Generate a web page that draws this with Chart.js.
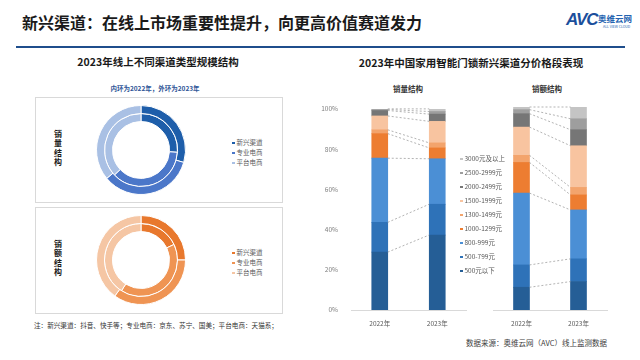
<!DOCTYPE html>
<html lang="zh">
<head>
  <meta charset="UTF-8">
  <title>新兴渠道：在线上市场重要性提升</title>
  <script src="https://cdn.jsdelivr.net/npm/chart.js"></script>
  <style>
    body {
      margin: 0;
      width: 640px;
      height: 360px;
      position: relative;
      background: #fff;
      font-family: "Noto Sans CJK SC", "Noto Sans", sans-serif;
      color: #333;
      overflow: hidden;
    }
    .abs { position: absolute; }
    .title {
      left: 22px; top: 11px;
      font-size: 16px; font-weight: bold; color: #1a1a1a;
      line-height: 22px; white-space: nowrap;
    }
    .rule { left: 16px; top: 46px; width: 609px; height: 2px; background: #1F4E8C; }
    .logo-avc { left: 566px; top: 10px; font: italic bold 17px "Liberation Sans", Arial, sans-serif; color: #1B4F9C; letter-spacing: -1px; }
    .logo-cn { left: 598px; top: 13px; font-size: 8.5px; font-weight: bold; color: #2563B0; line-height: 10px; }
    .logo-en { left: 603px; top: 24px; font-size: 3.5px; color: #2563B0; white-space: nowrap; }
    .sub-title { font-size: 10.5px; font-weight: bold; color: #1a1a1a; white-space: nowrap; transform: translateX(-50%); }
    .ring-note { left: 155px; top: 83px; font-size: 6.5px; font-weight: bold; color: #2F5597; white-space: nowrap; transform: translateX(-50%); }
    .box { border: 1px solid #D9D9D9; box-sizing: border-box; }
    .vlabel { font-size: 8px; font-weight: bold; color: #1a1a1a; line-height: 9.3px; width: 10px; text-align: center; }
    .legend-item { font-size: 6.5px; color: #595959; white-space: nowrap; line-height: 10px; }
    .legend-item i { display: inline-block; width: 2.5px; height: 2.5px; margin-right: 2px; vertical-align: middle; }
    .small-head { font-size: 7.5px; font-weight: bold; color: #333; white-space: nowrap; }
    .note { left: 34px; top: 320px; font-size: 6.6px; color: #333; white-space: nowrap; }
    .source { left: 466px; top: 337px; font-size: 7.5px; color: #404040; white-space: nowrap; }
    canvas { position: absolute; }
  </style>
</head>
<body>
  <div class="abs title">新兴渠道：在线上市场重要性提升，向更高价值赛道发力</div>
  <div class="abs rule"></div>
  <div class="abs logo-avc">AVC</div>
  <div class="abs logo-cn">奥维云网</div>
  <div class="abs logo-en">ALL VIEW CLOUD</div>

  <!-- left panel -->
  <div class="abs sub-title" style="left:158px; top:54px;">2023年线上不同渠道类型规模结构</div>
  <div class="abs ring-note">内环为2022年，外环为2023年</div>
  <div class="abs box" style="left:35px; top:97px; width:248px; height:106px;"></div>
  <div class="abs box" style="left:35px; top:207px; width:248px; height:107px;"></div>
  <div class="abs vlabel" style="left:53px; top:129px;">销<br>量<br>结<br>构</div>
  <div class="abs vlabel" style="left:53px; top:239px;">销<br>额<br>结<br>构</div>
  <canvas id="volumeDonut" width="100" height="100" style="left:91px; top:100px;"></canvas>
  <canvas id="amountDonut" width="100" height="100" style="left:91px; top:210px;"></canvas>
  <div id="volumeDonutLegend" class="abs" style="left:232px; top:137px;"></div>
  <div id="amountDonutLegend" class="abs" style="left:232px; top:247px;"></div>
  <div class="abs note">注：新兴渠道：抖音、快手等；专业电商：京东、苏宁、国美；平台电商：天猫系；</div>

  <!-- right panel -->
  <div class="abs sub-title" style="left:471px; top:55px;">2023年中国家用智能门锁新兴渠道分价格段表现</div>
  <div class="abs small-head" style="left:393px; top:83px;">销量结构</div>
  <div class="abs small-head" style="left:532px; top:83px;">销额结构</div>
  <canvas id="volumeBars" width="160" height="230" style="left:310px; top:100px;"></canvas>
  <canvas id="amountBars" width="150" height="230" style="left:470px; top:100px;"></canvas>
  <div id="barLegend" class="abs" style="left:460px; top:151px;"></div>
  <div class="abs source">数据来源：奥维云网（AVC）线上监测数据</div>

  <script>
    // Donut data (shares, %)
    const channels = ['新兴渠道', '专业电商', '平台电商'];
    const volumeShare2022 = [26, 37, 37];
    const volumeShare2023 = [29.5, 34.5, 36];
    const amountShare2022 = [18, 41, 41];
    const amountShare2023 = [25, 35, 40];
    const blueColors = ['#1E5EAA', '#4B77C9', '#A9C0E4'];
    const orangeColors = ['#E8782D', '#EF9453', '#F5C6A4'];

    // Price band data (shares, %)
    const years = ['2022年', '2023年'];
    const priceBands = ['500元以下', '500-799元', '800-999元', '1000-1299元', '1300-1499元', '1500-1999元', '2000-2499元', '2500-2999元', '3000元及以上'];
    const bandVolume2022 = [28.8, 14.8, 31.9, 12.2, 1.9, 6.9, 2.7, 0.5, 0.3];
    const bandVolume2023 = [37.3, 15.3, 22.6, 5.4, 2.5, 10.7, 3.6, 1.3, 1.3];
    const bandAmount2022 = [11.2, 11.0, 35.4, 15.1, 3.5, 13.9, 6.6, 2.0, 1.3];
    const bandAmount2023 = [14.0, 11.2, 24.1, 7.4, 3.7, 20.5, 7.9, 5.4, 5.8];
    const bandColors = ['#255E96', '#2E72B8', '#4B8FD5', '#ED7D31', '#F3A46C', '#F8C4A0', '#767676', '#9E9E9E', '#C4C4C4'];
    const yTicks = [0, 20, 40, 60, 80, 100];

    Chart.defaults.font.family = '"Noto Sans CJK SC", "Noto Sans", sans-serif';
    Chart.defaults.animation = false;

    function makeDonut(id, outer, inner, colors) {
      new Chart(document.getElementById(id), {
        type: 'doughnut',
        data: {
          labels: channels,
          datasets: [
            { data: outer, backgroundColor: colors, borderColor: '#fff', borderWidth: 1 },
            { data: inner, backgroundColor: colors, borderColor: '#fff', borderWidth: 1 }
          ]
        },
        options: {
          responsive: false,
          cutout: '64%',
          layout: { padding: 5 },
          plugins: { legend: { display: false }, tooltip: { enabled: false } }
        }
      });
    }
    makeDonut('volumeDonut', volumeShare2023, volumeShare2022, blueColors);
    makeDonut('amountDonut', amountShare2023, amountShare2022, orangeColors);

    function fillLegend(id, labels, colors) {
      document.getElementById(id).innerHTML = labels.map((l, i) =>
        '<div class="legend-item"><i style="background:' + colors[i] + '"></i>' + l + '</div>'
      ).join('');
    }
    fillLegend('volumeDonutLegend', channels, blueColors);
    fillLegend('amountDonutLegend', channels, orangeColors);
    document.getElementById('barLegend').innerHTML = priceBands.map((l, i) => i).reverse().map(i =>
      '<div class="legend-item" style="line-height:14px"><i style="background:' + bandColors[i] + '"></i>' + priceBands[i] + '</div>'
    ).join('');

    // dashed lines joining segment tops of the two bars
    const connectors = {
      id: 'connectors',
      afterDatasetsDraw(chart) {
        const ctx = chart.ctx;
        ctx.save();
        ctx.strokeStyle = '#A0A0A0';
        ctx.lineWidth = 0.8;
        ctx.setLineDash([2, 2]);
        chart.data.datasets.forEach((ds, i) => {
          const bars = chart.getDatasetMeta(i).data;
          const a = bars[0], b = bars[1];
          ctx.beginPath();
          ctx.moveTo(a.x + a.width / 2, a.y);
          ctx.lineTo(b.x - b.width / 2, b.y);
          ctx.stroke();
        });
        ctx.restore();
      }
    };

    function makeBars(id, first, second, showY, padding) {
      new Chart(document.getElementById(id), {
        type: 'bar',
        data: {
          labels: years,
          datasets: priceBands.map((band, i) => ({
            label: band,
            data: [first[i], second[i]],
            backgroundColor: bandColors[i],
            barThickness: 16
          }))
        },
        options: {
          responsive: false,
          layout: { padding: padding },
          plugins: { legend: { display: false }, tooltip: { enabled: false } },
          scales: {
            x: {
              stacked: true,
              grid: { display: false },
              border: { color: '#D9D9D9' },
              ticks: { color: '#595959', font: { size: 6.5 }, padding: 2 },
              afterFit: s => { s.height = 20; }
            },
            y: {
              stacked: true,
              display: showY,
              min: 0,
              max: 100,
              afterBuildTicks: s => { s.ticks = yTicks.map(v => ({ value: v })); },
              grid: { display: false },
              border: { display: false },
              ticks: { color: '#7F7F7F', font: { size: 6.5 }, padding: 5, callback: v => v + '%' },
              afterFit: s => { s.width = showY ? 41 : 0; }
            }
          }
        },
        plugins: [connectors]
      });
    }
    makeBars('volumeBars', bandVolume2022, bandVolume2023, true, { top: 7, right: 4, left: 0, bottom: 0 });
    makeBars('amountBars', bandAmount2022, bandAmount2023, false, { top: 7, right: 13, left: 23, bottom: 0 });
  </script>
</body>
</html>
